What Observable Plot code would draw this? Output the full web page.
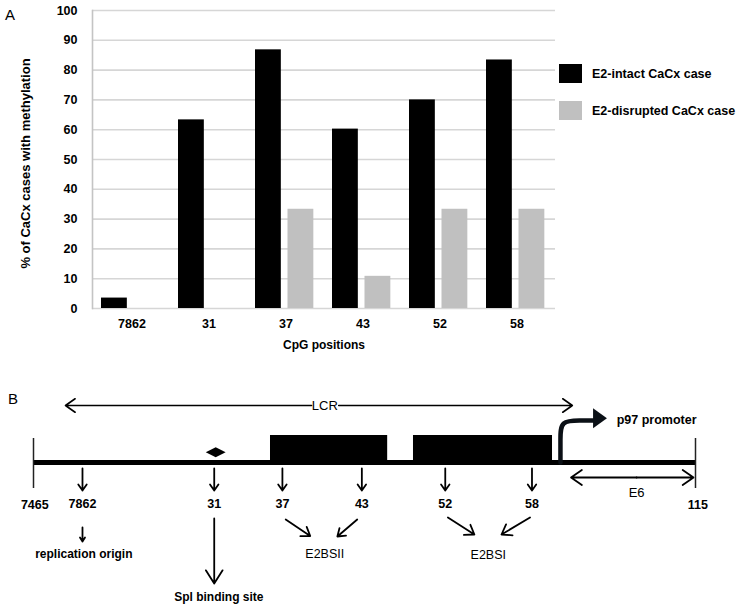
<!DOCTYPE html>
<html><head><meta charset="utf-8">
<script src="https://cdn.jsdelivr.net/npm/d3@7"></script>
<script src="https://cdn.jsdelivr.net/npm/@observablehq/plot@0.6"></script>
<style>
body{margin:0;background:#fff;font-family:"Liberation Sans",Arial,sans-serif;}
#wrap{position:relative;width:737px;height:608px;overflow:hidden;background:#fff}
#wrap svg{display:block}
.abs{position:absolute}
.plab{font-size:15px;color:#000}
.sw{position:absolute;width:23px;height:19px}
.lt{position:absolute;font-size:12.5px;font-weight:bold;line-height:14px;white-space:nowrap}
</style></head><body>
<div id="wrap">
  <div id="pa" class="abs" style="left:0;top:0"></div>
  <div id="pb" class="abs" style="left:0;top:370px"></div>
  <div class="abs plab" style="left:5px;top:6px">A</div>
  <div class="abs plab" style="left:8px;top:390px">B</div>
  <div id="legend"></div>
</div>
<script>
// ---------- Panel A data ----------
const positions = ["7862", "31", "37", "43", "52", "58"];
const intact = [3.5, 63.3, 86.8, 60.2, 70.0, 83.4];
const disrupted = [0, 0, 33.3, 10.8, 33.3, 33.3];
const seriesNames = ["E2-intact CaCx case", "E2-disrupted CaCx case"];
const seriesColors = ["#000000", "#c0c0c0"];
const yTicks = [0, 10, 20, 30, 40, 50, 60, 70, 80, 90, 100];
const yLabel = "% of CaCx cases with methylation";
const xLabel = "CpG positions";

// ---------- Panel B data (schematic, positions along the backbone 0..100) ----------
const sites = [
  {label: "7862", pos: 7.4},
  {label: "31", pos: 27.3},
  {label: "37", pos: 37.6},
  {label: "43", pos: 49.6},
  {label: "52", pos: 62.2},
  {label: "58", pos: 75.3}
];
const ends = [{label: "7465", pos: 0.2}, {label: "115", pos: 100.35}];
const boxes = [{x1: 35.8, x2: 53.5}, {x1: 57.4, x2: 78.4}];
const diamond = [{x: 26.1, lo: 9.7, hi: 9.7}, {x: 27.6, lo: 4.7, hi: 14.7}, {x: 29.1, lo: 9.7, hi: 9.7}];
const lcr = {label: "LCR", from: 4.83, to: 81.4, mid: 44.0, gapL: 42.0, gapR: 46.1, y: 57};
const e6 = {label: "E6", from: 81.2, to: 99.7, mid: 91.1, y: -15};
const promoterPath = [{x: 79.6, y: 0}, {x: 79.6, y: 24}, {x: 79.6, y: 42}, {x: 82.6, y: 42}, {x: 84.8, y: 42}];
const promoterHead = [{x: 84.6, lo: 33.7, hi: 53.7}, {x: 86.7, lo: 43.7, hi: 43.7}];
const promoterLabel = {label: "p97 promoter", x: 88.1, y: 43};
const groupArrows = [
  {x1: 38.1, y1: -57, x2: 41.8, y2: -73.5},
  {x1: 48.9, y1: -57, x2: 45.9, y2: -74},
  {x1: 62.6, y1: -55, x2: 66.6, y2: -72},
  {x1: 75.0, y1: -55, x2: 70.7, y2: -72}
];
const groupLabels = [{label: "E2BSII", x: 44.0, y: -91}, {label: "E2BSI", x: 68.7, y: -92}];
const featureArrows = [
  {x: 7.4, y1: -65, y2: -79, label: "replication origin", ly: -92, lx: 7.6},
  {x: 27.3, y1: -56, y2: -121, label: "Spl binding site", ly: -135, lx: 28.0}
];

// ---------- Panel A ----------
const rows = positions.flatMap((p, i) => [
  {pos: p, series: seriesNames[0], value: intact[i]},
  {pos: p, series: seriesNames[1], value: disrupted[i]}
]);
const W = 737, mL = 92, mR = 182;
const bw = (W - mL - mR) / positions.length;
const barW = 26, lead = 8, gap = 6.5;
const numFont = "'Liberation Sans',Arial,sans-serif";

const chartA = Plot.plot({
  width: W, height: 368,
  marginLeft: mL, marginRight: mR, marginTop: 10, marginBottom: 60,
  style: {fontFamily: "'Liberation Sans',Arial,sans-serif", background: "#fff"},
  x: {type: "band", domain: positions, padding: 0, axis: null},
  y: {domain: [0, 100], axis: null},
  color: {domain: seriesNames, range: seriesColors},
  marks: [
    Plot.ruleY(yTicks, {stroke: "#d6d6d6", strokeWidth: 1.6}),
    Plot.frame({anchor: "left", stroke: "#c4c4c4", strokeWidth: 1.6}),
    Plot.barY(rows.filter(d => d.series === seriesNames[0]), {
      x: "pos", y: "value", fill: "series",
      insetLeft: lead, insetRight: bw - lead - barW
    }),
    Plot.barY(rows.filter(d => d.series === seriesNames[1]), {
      x: "pos", y: "value", fill: "series",
      insetLeft: lead + barW + gap, insetRight: bw - lead - 2 * barW - gap
    }),
    Plot.axisY(yTicks, {tickSize: 0, tickPadding: 15, fontWeight: "bold", fontSize: 12.5,
      fontFamily: numFont, label: null}),
    Plot.axisX(positions, {tickSize: 0, tickPadding: 11, fontWeight: "bold", fontSize: 12.5,
      fontFamily: numFont, label: null}),
    Plot.text([yLabel], {frameAnchor: "left", textAnchor: "middle", rotate: -90, dx: -67, dy: 4, fontSize: 13, fontWeight: "bold"}),
    Plot.text([xLabel], {frameAnchor: "bottom", dy: 40, fontSize: 12, fontWeight: "bold"})
  ]
});
document.getElementById("pa").appendChild(chartA);

// legend (HTML)
const leg = document.getElementById("legend");
seriesNames.forEach((s, i) => {
  const top = [64, 101][i];
  const sw = document.createElement("div");
  sw.className = "sw";
  sw.style.left = "559px"; sw.style.top = top + "px";
  sw.style.background = seriesColors[i];
  leg.appendChild(sw);
  const t = document.createElement("div");
  t.className = "lt";
  t.style.left = "592px"; t.style.top = (top + 3) + "px";
  t.textContent = s;
  leg.appendChild(t);
});

// ---------- Panel B ----------
const black = "#000";
const aw = 1.8;
const chartB = Plot.plot({
  width: W, height: 238,
  marginLeft: 33, marginRight: 42, marginTop: 0, marginBottom: 0,
  style: {fontFamily: "'Liberation Sans',Arial,sans-serif", background: "transparent", overflow: "visible"},
  x: {domain: [0, 100], axis: null},
  y: {domain: [-146, 92], axis: null},
  marks: [
    // LCR double arrow
    Plot.arrow([lcr], {x1: "gapL", x2: "from", y1: "y", y2: "y", stroke: black, strokeWidth: 1.6, headLength: 11, headAngle: 70}),
    Plot.arrow([lcr], {x1: "gapR", x2: "to", y1: "y", y2: "y", stroke: black, strokeWidth: 1.6, headLength: 11, headAngle: 70}),
    Plot.text([lcr], {x: "mid", y: "y", text: "label", fontSize: 13, fill: black}),
    // boxes
    Plot.rect(boxes, {x1: "x1", x2: "x2", y1: -3, y2: 27, fill: black}),
    // backbone
    Plot.ruleY([0], {x1: 0, x2: 100, stroke: black, strokeWidth: 5}),
    Plot.ruleX([0, 100], {y1: -26, y2: 24, stroke: "#222", strokeWidth: 1.5}),
    // diamond
    Plot.areaY(diamond, {x: "x", y1: "lo", y2: "hi", fill: black}),
    // promoter arrow
    Plot.line(promoterPath, {x: "x", y: "y", curve: "basis", stroke: "#0b1016", strokeWidth: 4.5}),
    Plot.areaY(promoterHead, {x: "x", y1: "lo", y2: "hi", fill: "#0b1016"}),
    Plot.text([promoterLabel], {x: "x", y: "y", text: "label", textAnchor: "start", fontSize: 12.5, fontWeight: "bold"}),
    // E6
    Plot.arrow([e6], {x1: "mid", x2: "from", y1: "y", y2: "y", stroke: black, strokeWidth: aw, headLength: 11, headAngle: 70}),
    Plot.arrow([e6], {x1: "mid", x2: "to", y1: "y", y2: "y", stroke: black, strokeWidth: aw, headLength: 11, headAngle: 70}),
    Plot.text([e6], {x: "mid", y: -30, text: "label", fontSize: 13}),
    // site arrows and labels
    Plot.arrow(sites, {x1: "pos", x2: "pos", y1: -6, y2: -28, stroke: black, strokeWidth: aw, headLength: 11, headAngle: 70}),
    Plot.text(sites, {x: "pos", y: -41, text: "label", fontSize: 12.5, fontWeight: "bold", fontFamily: numFont}),
    Plot.text(ends, {x: "pos", y: -42, text: "label", fontSize: 12.5, fontWeight: "bold", fontFamily: numFont}),
    // feature arrows
    Plot.arrow(featureArrows, {x1: "x", x2: "x", y1: "y1", y2: "y2", stroke: black, strokeWidth: aw, headLength: 13, headAngle: 65}),
    Plot.text(featureArrows, {x: "lx", y: "ly", text: "label", fontSize: 12, fontWeight: "bold"}),
    // E2BS group arrows
    Plot.arrow(groupArrows, {x1: "x1", y1: "y1", x2: "x2", y2: "y2", stroke: black, strokeWidth: aw, headLength: 11, headAngle: 70}),
    Plot.text(groupLabels, {x: "x", y: "y", text: "label", fontSize: 12.5})
  ]
});
document.getElementById("pb").appendChild(chartB);
</script>
</body></html>
